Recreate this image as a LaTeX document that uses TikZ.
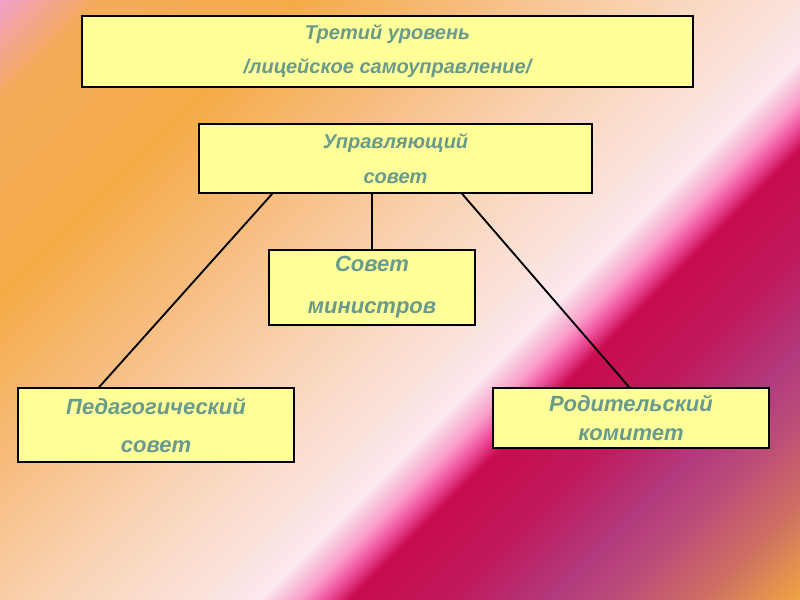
\documentclass[tikz,border=0pt]{standalone}
\usepackage{fontspec}
\setmainfont{Liberation Sans}
\definecolor{c0}{HTML}{F2A0C8}
\definecolor{c1}{HTML}{F4AC5A}
\definecolor{c2}{HTML}{F5AC48}
\definecolor{c3}{HTML}{F7C088}
\definecolor{c4}{HTML}{F9D4B4}
\definecolor{c5}{HTML}{FBE2DC}
\definecolor{c6}{HTML}{FCE8F0}
\definecolor{c7}{HTML}{F8A0C8}
\definecolor{c8}{HTML}{F050A0}
\definecolor{c9}{HTML}{C80C4E}
\definecolor{c10}{HTML}{C01A5C}
\definecolor{c11}{HTML}{B23A7E}
\definecolor{c12}{HTML}{BC4E78}
\definecolor{c13}{HTML}{CE6E62}
\definecolor{c14}{HTML}{F0A444}
\definecolor{boxfill}{HTML}{FFFF99}
\definecolor{txt}{HTML}{6A9A8C}
\tikzset{
  box/.style={draw=black, line width=1.3pt, fill=boxfill, inner sep=0pt, align=center, text=txt},
  conn/.style={draw=black, line width=1.4pt}
}
\begin{document}
\begin{tikzpicture}[x=0.75pt,y=-0.75pt]
\useasboundingbox (0,0) rectangle (800,600);
\begin{scope}
\clip (0,0) rectangle (800,600);
\foreach \ta/\tb/\ca/\cb in {0/100/c0/c1, 100/300/c1/c2, 300/500/c2/c3, 500/650/c3/c4, 650/800/c4/c5, 800/860/c5/c6, 860/900/c6/c7, 900/925/c7/c8, 925/950/c8/c9, 950/1050/c9/c10, 1050/1150/c10/c11, 1150/1220/c11/c12, 1220/1300/c12/c13, 1300/1400/c13/c14, 1400/1440/c14/c14}{
  \pgfmathtruncatemacro\n{max(1,(\tb-\ta)/3)}
  \foreach \i in {1,...,\n}{
    \pgfmathsetmacro\s{\ta+(\i-1)*(\tb-\ta)/\n}
    \pgfmathsetmacro\e{\ta+\i*(\tb-\ta)/\n+1}
    \pgfmathtruncatemacro\p{100*(\i-0.5)/\n}
    \fill[\cb!\p!\ca] (\s+10,-10) -- (\e+10,-10) -- (\e-610,610) -- (\s-610,610) -- cycle;
  }
}
\end{scope}
\node[box, minimum width=458.25pt, minimum height=53.25pt, font=\fontsize{15}{25.5}\selectfont\bfseries\itshape] (b1) at (387.5,51.5) {Третий уровень\\/лицейское самоуправление/};
\node[box, minimum width=294.75pt, minimum height=51.75pt, font=\fontsize{15}{26.25}\selectfont\bfseries\itshape] (b2) at (395.5,158.5) {Управляющий\\совет};
\node[box, minimum width=154.5pt, minimum height=56.25pt, font=\fontsize{16.5}{31.5}\selectfont\bfseries\itshape] (b3) at (372,287.5) {Совет\\министров};
\node[box, minimum width=207pt, minimum height=55.5pt, font=\fontsize{16.5}{28.5}\selectfont\bfseries\itshape] (b4) at (156,425) {Педагогический\\совет};
\node[box, minimum width=207pt, minimum height=45pt, font=\fontsize{16.5}{21.75}\selectfont\bfseries\itshape] (b5) at (631,418) {Родительский\\комитет};
\draw[conn] ([xshift=55.5pt]b2.south west) -- ([xshift=61.5pt]b4.north west);
\draw[conn] (b3.north) -- (b3.north |- b2.south);
\draw[conn] ([xshift=198pt]b2.south west) -- ([xshift=102.75pt]b5.north west);
\end{tikzpicture}
\end{document}
